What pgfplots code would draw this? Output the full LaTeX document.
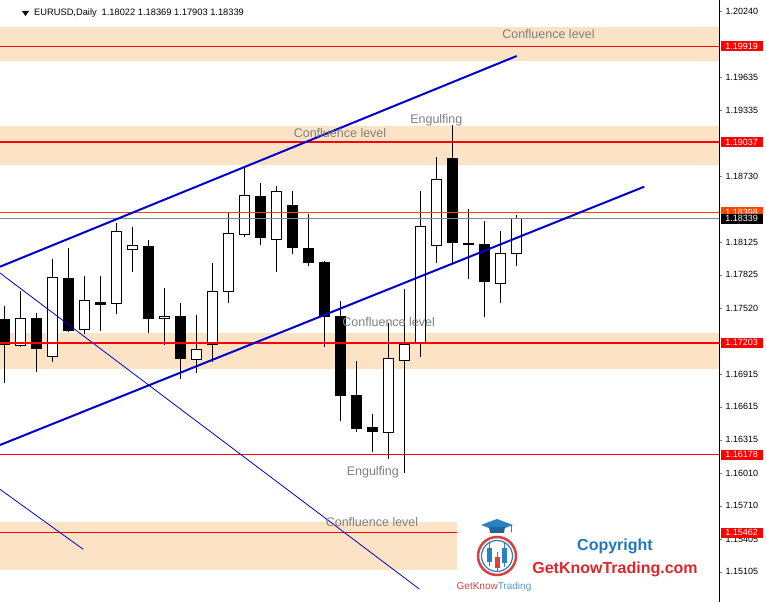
\documentclass[border=0pt]{standalone}
\usepackage{pgfplots}
\pgfplotsset{compat=1.18}
\usepackage{fontspec}
\setmainfont{Liberation Sans}

\definecolor{zone}{HTML}{FDE3C5}
\definecolor{tl}{HTML}{0000CD}
\definecolor{orl}{HTML}{FF4500}
\definecolor{gryl}{HTML}{778899}
\definecolor{txtg}{HTML}{808080}
\definecolor{logoblue}{HTML}{2C7FC0}
\definecolor{logored}{HTML}{D9413F}
\definecolor{cpblue}{HTML}{1E78BE}
\definecolor{cpred}{HTML}{E0262B}

% body fill, x, open, high, low, close
\newcommand{\candle}[6]{%
  \pgfmathsetmacro\cxl{#2-0.3}\pgfmathsetmacro\cxr{#2+0.3}%
  \addplot[black, line width=1pt] coordinates {(#2,#5) (#2,#4)};
  \addplot[draw=black, fill=#1, line width=1pt] coordinates {(\cxl,#3) (\cxr,#3) (\cxr,#6) (\cxl,#6)} -- cycle;
}
\newcommand{\bull}[5]{\candle{white}{#1}{#2}{#3}{#4}{#5}}
\newcommand{\bear}[5]{\candle{black}{#1}{#2}{#3}{#4}{#5}}
\def\xa{0.71875}
\def\xb{45.65625}
\newcommand{\hl}[2]{\addplot[#1] coordinates {(\xa,#2) (\xb,#2)};}
\newcommand{\zone}[2]{\addplot[draw=none, fill=zone] coordinates {(\xa,#1) (\xb,#1) (\xb,#2) (\xa,#2)} -- cycle;}
\newcommand{\plab}[3]{\node[fill=#1, text=white, anchor=west, inner sep=0pt,
  minimum width=42pt, minimum height=10pt, font=\fontsize{9}{10}\selectfont,
  xshift=1.5pt] at (axis cs:\xb,#3) {#2};}

\begin{document}
\begin{tikzpicture}
\useasboundingbox (0,0) rectangle (766pt,602pt);
\begin{axis}[
  at={(0,0)}, anchor=south west,
  scale only axis, width=719pt, height=602pt,
  xmin=\xa, xmax=\xb, ymin=1.14828, ymax=1.20342,
  axis x line=none, axis y line*=right,
  yticklabel pos=right,
  xtick=\empty,
  ytick={1.20240,1.19635,1.19335,1.18730,1.18125,1.17825,1.17520,1.16915,1.16615,1.16315,1.16010,1.15710,1.15405,1.15105},
  yticklabel style={/pgf/number format/.cd, fixed, fixed zerofill, precision=5, assume math mode=true},
  tick label style={font=\fontsize{9}{10}\selectfont},
  tick align=outside, major tick length=3pt,
  y axis line style={line width=1pt},
  clip mode=individual,
]
% zones
\zone{1.20095}{1.19786}
\zone{1.19188}{1.18833}
\zone{1.17289}{1.16965}
\addplot[draw=none, fill=zone] coordinates {(\xa,1.15563) (29.2625,1.15563) (29.2625,1.15124) (\xa,1.15124)} -- cycle;

% candles: x, open, high, low, close
\bear{1}{1.17411}{1.17542}{1.16831}{1.17191}
\bull{2}{1.17179}{1.17679}{1.17161}{1.17426}
\bear{3}{1.17426}{1.17475}{1.16937}{1.17148}
\bull{4}{1.17078}{1.17970}{1.17029}{1.17802}
\bear{5}{1.17793}{1.18070}{1.17301}{1.17319}
\bull{6}{1.17326}{1.17814}{1.17283}{1.17591}
\bear{7}{1.17567}{1.17814}{1.17313}{1.17551}
\bull{8}{1.17560}{1.18302}{1.17469}{1.18223}
\bull{9}{1.18058}{1.18263}{1.17853}{1.18095}
\bear{10}{1.18086}{1.18144}{1.17295}{1.17423}
\bull{11}{1.17426}{1.17704}{1.17185}{1.17447}
\bear{12}{1.17447}{1.17564}{1.16873}{1.17056}
\bull{13}{1.17051}{1.17457}{1.16928}{1.17142}
\bull{14}{1.17191}{1.17930}{1.17023}{1.17674}
\bull{15}{1.17674}{1.18400}{1.17569}{1.18205}
\bull{16}{1.18196}{1.18800}{1.18174}{1.18553}
\bear{17}{1.18538}{1.18666}{1.18101}{1.18165}
\bull{18}{1.18150}{1.18638}{1.17853}{1.18590}
\bear{19}{1.18464}{1.18592}{1.18018}{1.18073}
\bear{20}{1.18070}{1.18385}{1.17908}{1.17936}
\bear{21}{1.17942}{1.17951}{1.17166}{1.17441}
\bear{22}{1.17447}{1.17585}{1.16488}{1.16717}
\bear{23}{1.16715}{1.17035}{1.16388}{1.16415}
\bear{24}{1.16428}{1.16550}{1.16204}{1.16391}
\bull{25}{1.16382}{1.17386}{1.16135}{1.17060}
\bull{26}{1.17042}{1.17692}{1.16007}{1.17188}
\bull{27}{1.17206}{1.18592}{1.17069}{1.18263}
\bull{28}{1.18095}{1.18904}{1.17936}{1.18702}
\bear{29}{1.18886}{1.19200}{1.17924}{1.18119}
\bear{30}{1.18116}{1.18428}{1.17789}{1.18101}
\bear{31}{1.18107}{1.18318}{1.17441}{1.17759}
\bull{32}{1.17743}{1.18226}{1.17569}{1.18022}
\bull{33}{1.18022}{1.18369}{1.17903}{1.18339}

% horizontal levels
\hl{red, line width=1pt}{1.19919}
\hl{red, line width=2pt}{1.19037}
\hl{orl, line width=1pt}{1.18398}
\hl{gryl, line width=1pt}{1.18339}
\hl{red, line width=2pt}{1.17203}
\hl{red, line width=1pt}{1.16178}
\addplot[red, line width=1pt] coordinates {(\xa,1.15462) (29.2625,1.15462)};

% trend lines
\addplot[tl, line width=2pt] coordinates {(\xa,1.17899) (33.0125,1.19829)};
\addplot[tl, line width=2pt] coordinates {(\xa,1.16266) (40.9875,1.18632)};
\addplot[tl, line width=0.8pt] coordinates {(\xa,1.17841) (26.925,1.14947)};
\addplot[tl, line width=0.8pt] coordinates {(\xa,1.15860) (5.925,1.15310)};

% annotations
\begin{scope}[every node/.style={text=txtg, font=\fontsize{12.5}{13}\selectfont, inner sep=0pt}]
\node at (axis cs:35,1.20031) {Confluence level};
\node at (axis cs:21.97,1.19124) {Confluence level};
\node at (axis cs:25.01,1.17390) {Confluence level};
\node at (axis cs:23.97,1.15563) {Confluence level};
\node at (axis cs:27.99,1.19236) {Engulfing};
\node at (axis cs:24.02,1.16016) {Engulfing};
\end{scope}

% price labels
\plab{red}{1.19919}{1.19919}
\plab{red}{1.19037}{1.19037}
\plab{orl}{1.18398}{1.18398}
\plab{black}{1.18339}{1.18339}
\plab{red}{1.17203}{1.17203}
\plab{red}{1.16178}{1.16178}
\plab{red}{1.15462}{1.15462}
\end{axis}

\begin{scope}[shift={(0pt,602pt)}, x=1pt, y=-1pt]
% header
\fill (22,11) -- (29,11) -- (25.5,16) -- cycle;
\node[anchor=west, inner sep=0pt, font=\fontsize{9.3}{10}\selectfont] at (34,13)
  {EURUSD,Daily\hspace{5pt}1.18022 1.18369 1.17903 1.18339};
% logo
\draw[logored, line width=2.5pt] (497,556) circle[radius=19pt];
\draw[logoblue, line width=1.2pt] (497,556) circle[radius=15.5pt];
\fill[logoblue] (481,525) -- (497,519) -- (513,525) -- (497,531) -- cycle;
\fill[logoblue!80!black] (489,527) -- (505,527) -- (504,533) -- (490,533) -- cycle;
\draw[logored, line width=1pt] (511,525) -- (511,532);
\draw[logoblue, line width=0.8pt] (489.5,543) -- (489.5,566);
\fill[logoblue] (487.3,548) rectangle (491.7,561.7);
\draw[logored, line width=0.8pt] (497.3,552) -- (497.3,571);
\fill[logored] (495,556.7) rectangle (499.7,568);
\draw[logoblue, line width=0.8pt] (504.6,543) -- (504.6,567);
\fill[logoblue] (502.3,548) rectangle (507,563);
\node[inner sep=0pt, font=\fontsize{10}{11}\selectfont] at (494,587)
  {\textcolor{logored}{GetKnow}\textcolor{logoblue!80}{Trading}};
\node[inner sep=0pt, text=cpblue, font=\bfseries\fontsize{16}{17}\selectfont] at (615,546) {Copyright};
\node[inner sep=0pt, text=cpred, font=\bfseries\fontsize{16}{17}\selectfont] at (615,569) {GetKnowTrading.com};
\end{scope}
\end{tikzpicture}
\end{document}
